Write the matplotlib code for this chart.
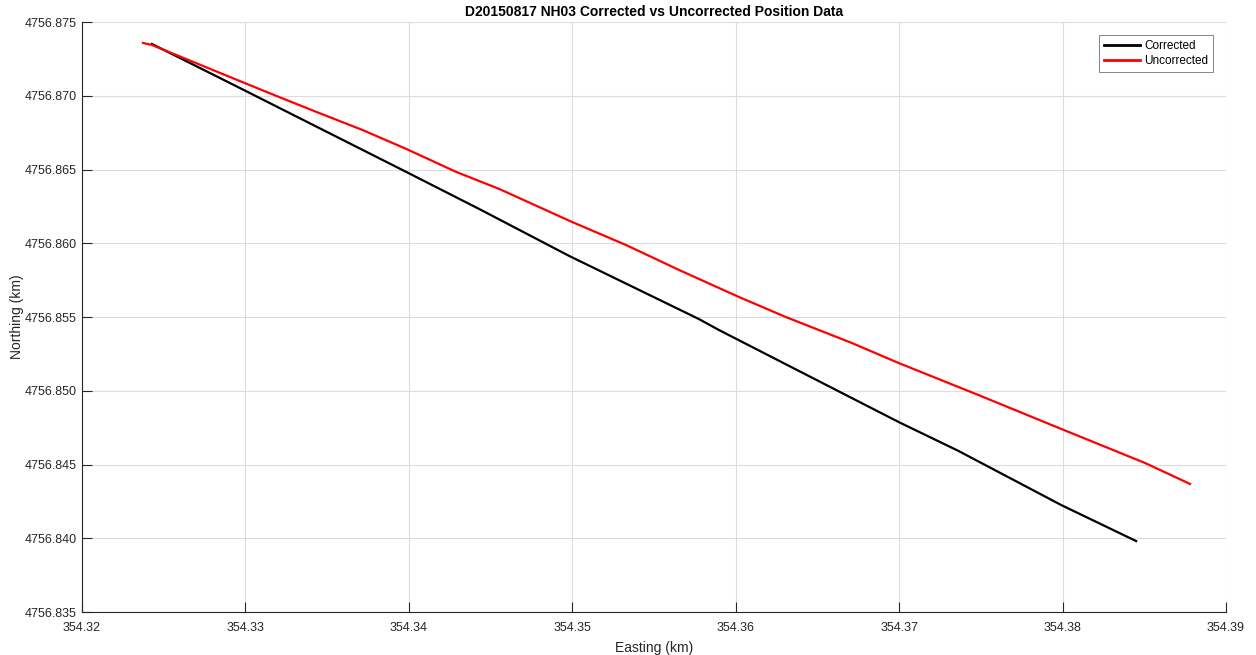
import matplotlib
matplotlib.use("Agg")
import matplotlib.pyplot as plt

plt.rcParams['font.family'] = ['Liberation Sans', 'DejaVu Sans']

# Track positions (km), corrected and uncorrected
easting_corr = [354.32428, 354.32965, 354.33985, 354.34431, 354.34981, 354.35775,
                354.35897, 354.36997, 354.37363, 354.37992, 354.38450]
northing_corr = [4756.87351, 4756.87053, 4756.86483, 4756.86232, 4756.85914, 4756.85486,
                 4756.85412, 4756.84788, 4756.84592, 4756.84225, 4756.83981]

easting_unc = [354.32373, 354.32428, 354.32965, 354.33191, 354.33435, 354.33716, 354.33985,
               354.34291, 354.34553, 354.34999, 354.35329, 354.35653, 354.36019, 354.36306,
               354.36710, 354.36997, 354.37485, 354.37992, 354.38505, 354.38780]
northing_unc = [4756.87358, 4756.87344, 4756.87100, 4756.86998, 4756.86890, 4756.86768, 4756.86639,
                4756.86483, 4756.86368, 4756.86144, 4756.85988, 4756.85819, 4756.85636, 4756.85500,
                4756.85324, 4756.85188, 4756.84971, 4756.84741, 4756.84510, 4756.84368]

xticks = [354.32, 354.33, 354.34, 354.35, 354.36, 354.37, 354.38, 354.39]
yticks = [4756.835, 4756.840, 4756.845, 4756.850, 4756.855, 4756.860, 4756.865, 4756.870, 4756.875]

fig = plt.figure(figsize=(12.56, 6.55), dpi=100)
ax = fig.add_axes([82 / 1256, 1 - 612 / 655, (1226 - 82) / 1256, (612 - 22) / 655])

ax.plot(easting_corr, northing_corr, color='black', lw=1.6, label='Corrected', zorder=3)
ax.plot(easting_unc, northing_unc, color='red', lw=1.6, label='Uncorrected', zorder=3)

ax.set_xlim(xticks[0], xticks[-1])
ax.set_ylim(yticks[0], yticks[-1])
ax.set_xticks(xticks, ['%.2f' % v for v in xticks])
ax.set_yticks(yticks, ['%.3f' % v for v in yticks])

dark = '#262626'
ax.grid(True, color='#dcdcdc', lw=0.8)
ax.set_axisbelow(True)
for s in ['top', 'right']:
    ax.spines[s].set_visible(False)
for s in ['left', 'bottom']:
    ax.spines[s].set_color(dark)
    ax.spines[s].set_linewidth(0.8)
ax.tick_params(direction='in', length=7, width=0.8, colors=dark, labelsize=9)
ax.tick_params(axis='x', pad=7)
ax.tick_params(axis='y', pad=4)

ax.set_title('D20150817 NH03 Corrected vs Uncorrected Position Data',
             fontsize=10, fontweight='bold', color='black', pad=4)
ax.set_xlabel('Easting (km)', fontsize=10, color=dark, labelpad=5)
ax.set_ylabel('Northing (km)', fontsize=10, color=dark, labelpad=0)

leg = ax.legend(loc='upper right', fontsize=8.5, frameon=True, fancybox=False,
                edgecolor='#666666', handlelength=3.0, borderaxespad=1.1,
                borderpad=0.4, labelspacing=0.3, handletextpad=0.4)
leg.get_frame().set_linewidth(0.7)
for line in leg.get_lines():
    line.set_linewidth(2)

fig.savefig('out.png', dpi=100, facecolor='white')
